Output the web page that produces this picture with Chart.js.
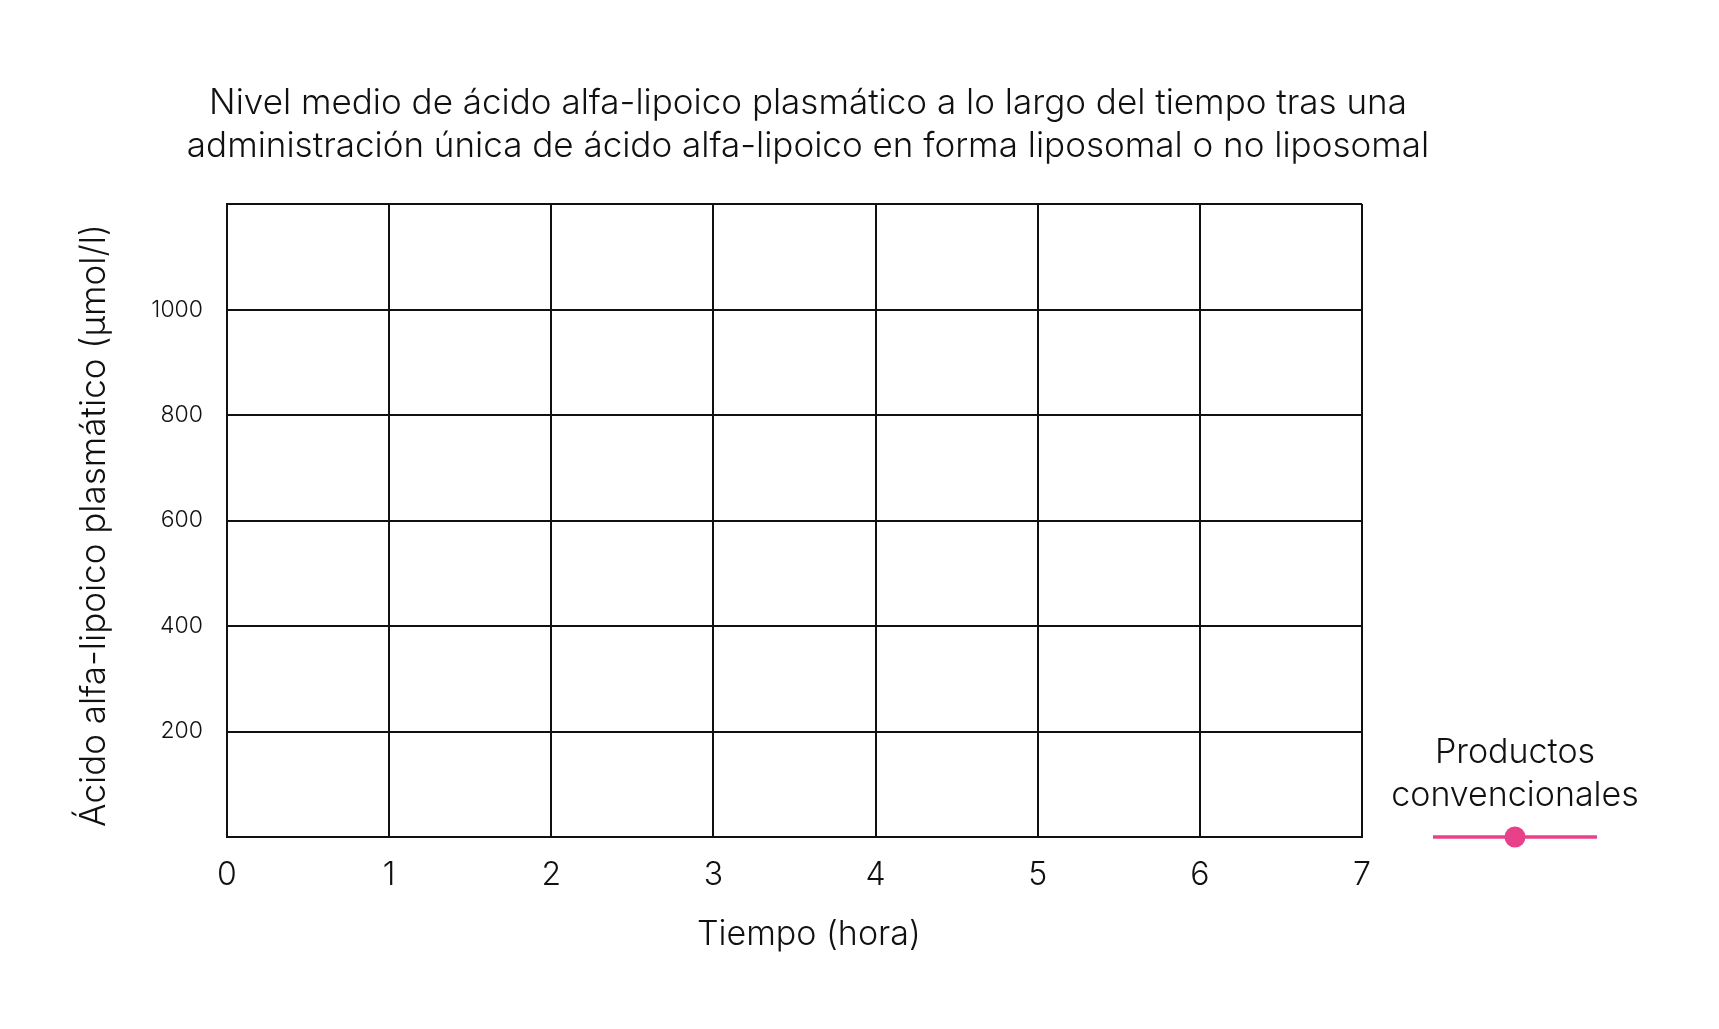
<!DOCTYPE html>
<html lang="es">
<head>
<meta charset="utf-8">
<title>Ácido alfa-lipoico plasmático</title>
<script src="https://cdn.jsdelivr.net/npm/chart.js@4.4.1/dist/chart.umd.min.js"></script>
<style>
  html, body { margin: 0; padding: 0; background: #fff; }
  #wrap { width: 1719px; height: 1029px; }
</style>
</head>
<body>
<div id="wrap"><canvas id="level-chart"></canvas></div>
<script>
const titleLines = [
    'Nivel medio de ácido alfa-lipoico plasmático a lo largo del tiempo tras una',
    'administración única de ácido alfa-lipoico en forma liposomal o no liposomal'
];
// the original centres both axis titles a little off the plot centre
const xTitle = '   Tiempo (hora)';
const yTitle = 'Ácido alfa-lipoico plasmático (µmol/l) ';
const seriesName = ['Productos', 'convencionales'];

// hours shown on the x axis and the level ticks that carry a label
const hourTicks = [0, 1, 2, 3, 4, 5, 6, 7];
const levelTicks = [200, 400, 600, 800, 1000];
const levelMax = 1200;

// the reference plots no points yet for this series
const timeHours = [];
const conventionalLevels = [];

const pink = '#e8418a';
const ink = '#111111';
const fontFamily = 'Inter, "Noto Sans", sans-serif';

// box on the right of the plot that holds the series key
const sideLegend = {
    id: 'sideLegend',
    beforeInit(chart) {
        const box = {
            position: 'right',
            fullSize: false,
            weight: 0,
            options: {},
            isHorizontal() { return false; },
            update(maxWidth, maxHeight) {
                this.width = 234;
                this.height = maxHeight;
            },
            draw() {
                const ctx = chart.ctx;
                const area = chart.chartArea;
                const cx = this.left + 153;
                ctx.save();
                ctx.font = '300 34px ' + fontFamily;
                ctx.fillStyle = ink;
                ctx.textAlign = 'center';
                ctx.textBaseline = 'middle';
                ctx.fillText(seriesName[0], cx, area.bottom - 84);
                ctx.fillText(seriesName[1], cx, area.bottom - 41);
                ctx.strokeStyle = pink;
                ctx.lineWidth = 3.5;
                ctx.beginPath();
                ctx.moveTo(cx - 82, area.bottom);
                ctx.lineTo(cx + 82, area.bottom);
                ctx.stroke();
                ctx.fillStyle = pink;
                ctx.beginPath();
                ctx.arc(cx, area.bottom, 10.5, 0, Math.PI * 2);
                ctx.fill();
                ctx.restore();
            }
        };
        Chart.layouts.addBox(chart, box);
    }
};

const points = timeHours.map((t, i) => ({ x: t, y: conventionalLevels[i] }));

new Chart(document.getElementById('level-chart'), {
    type: 'line',
    data: {
        datasets: [{
            label: seriesName.join(' '),
            data: points,
            borderColor: pink,
            backgroundColor: pink,
            borderWidth: 3.5,
            pointRadius: 10,
            fill: false
        }]
    },
    options: {
        responsive: true,
        maintainAspectRatio: false,
        animation: false,
        layout: { padding: { top: 10, left: 20, right: 123, bottom: 52 } },
        plugins: {
            legend: { display: false },
            tooltip: { enabled: false },
            title: {
                display: true,
                text: titleLines,
                color: ink,
                font: { family: fontFamily, size: 35, weight: '300', lineHeight: 1.23 },
                padding: { top: 72, bottom: 36 }
            }
        },
        scales: {
            x: {
                type: 'linear',
                min: 0,
                max: 7,
                afterBuildTicks: (axis) => { axis.ticks = hourTicks.map(v => ({ value: v })); },
                afterFit: (axis) => { axis.height = 140; },
                grid: { color: ink, lineWidth: 2, drawTicks: false },
                border: { color: ink, width: 2 },
                ticks: {
                    color: ink,
                    padding: 19,
                    font: { family: fontFamily, size: 32, weight: '300' }
                },
                title: {
                    display: true,
                    text: xTitle,
                    color: ink,
                    padding: { top: 0, bottom: 22 },
                    font: { family: fontFamily, size: 34, weight: '300' }
                }
            },
            y: {
                min: 0,
                max: levelMax,
                ticks: {
                    stepSize: 200,
                    color: ink,
                    padding: 24,
                    font: { family: fontFamily, size: 23, weight: '300' },
                    callback: (v) => levelTicks.includes(v) ? String(v) : ''
                },
                afterFit: (axis) => { axis.width = 207; },
                grid: { color: ink, lineWidth: 2, drawTicks: false },
                border: { color: ink, width: 2 },
                title: {
                    display: true,
                    text: yTitle,
                    color: ink,
                    padding: { top: 53, bottom: 0 },
                    font: { family: fontFamily, size: 35, weight: '300' }
                }
            }
        }
    },
    plugins: [sideLegend]
});
</script>
</body>
</html>
